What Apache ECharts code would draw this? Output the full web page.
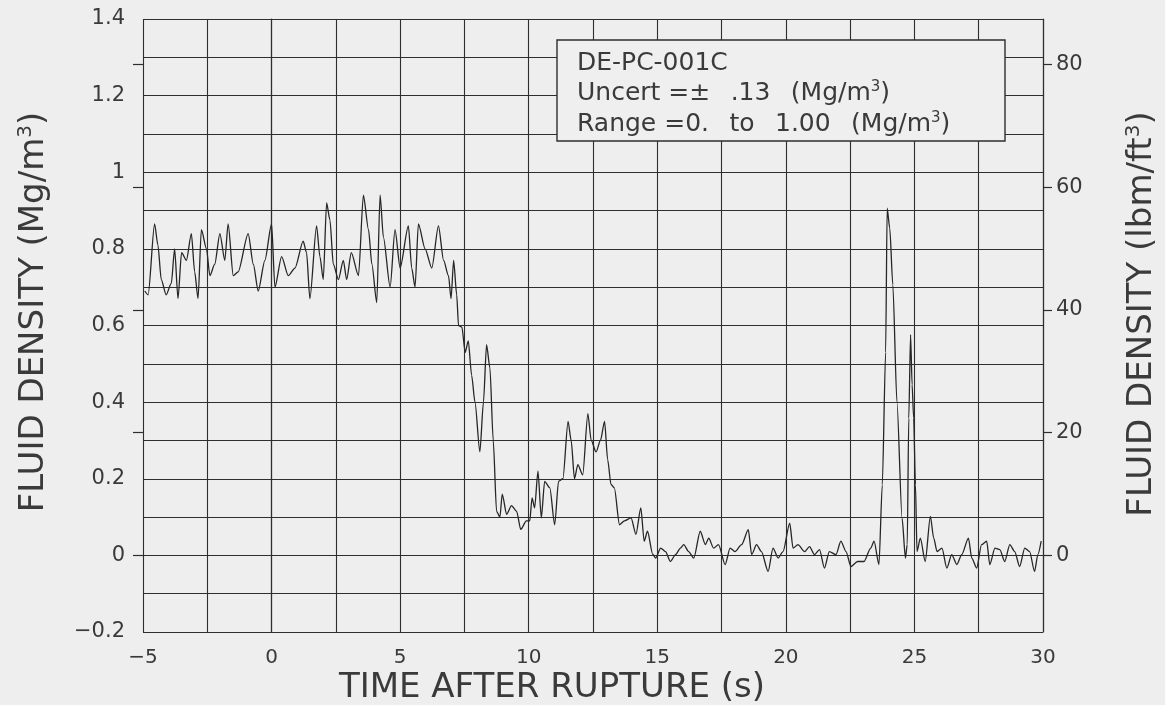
<!DOCTYPE html>
<html>
<head>
<meta charset="utf-8">
<script src="https://cdn.jsdelivr.net/npm/echarts@6/dist/echarts.min.js"></script>
<style>
  html, body { margin: 0; padding: 0; background: #eeeeee; }
  #chart { width: 1165px; height: 705px; }
</style>
</head>
<body>
<div id="chart"></div>
<script>
// Fluid density at DE-PC-001C versus time after rupture
const timeS = [
  -4.93, -4.8, -4.55, -4.42, -4.29, -4.1, -3.9, -3.77, -3.64, -3.5,
  -3.31, -3.12, -2.99, -2.86, -2.73, -2.53, -2.4, -2.21, -2.01, -1.82,
  -1.69, -1.49, -1.3, -0.91, -0.71, -0.52, -0.26, 0, 0.13, 0.39,
  0.65, 0.91, 1.23, 1.36, 1.49, 1.75, 1.88, 2.01, 2.14, 2.27,
  2.4, 2.6, 2.79, 2.92, 3.1, 3.38, 3.57, 3.77, 3.9, 4.09,
  4.22, 4.35, 4.61, 4.8, 5.0, 5.32, 5.45, 5.58, 5.71, 5.97,
  6.23, 6.49, 6.69, 6.88, 6.98, 7.08, 7.2,
  7.27, 7.4, 7.53, 7.65, 7.78, 7.91, 8.1, 8.24, 8.36, 8.49,
  8.62, 8.75, 8.88, 8.97, 9.14, 9.33, 9.53, 9.69, 9.91, 10.04,
  10.13, 10.23, 10.36, 10.49, 10.62, 10.82, 11.01, 11.16, 11.33, 11.53,
  11.65, 11.78, 11.91, 12.1, 12.3, 12.43, 12.62, 12.79, 12.95, 13.07,
  13.2, 13.33, 13.53, 13.72, 13.98, 14.17, 14.36, 14.49, 14.62, 14.82,
  14.94, 15.13, 15.32, 15.51, 15.71, 15.9, 16.03, 16.22, 16.42, 16.67,
  16.87, 17.0, 17.19, 17.38, 17.64, 17.83, 18.02, 18.28, 18.54, 18.67,
  18.86, 19.05, 19.31, 19.5, 19.7, 19.89, 20.15, 20.28, 20.47, 20.73,
  20.92, 21.11, 21.31, 21.5, 21.69, 21.95, 22.14, 22.34, 22.53, 22.79,
  23.04, 23.3, 23.43, 23.62, 23.75, 23.88, 23.94, 24.04, 24.16, 24.32,
  24.52, 24.65, 24.72, 24.78, 24.85, 24.91, 24.97, 25.04, 25.1, 25.23,
  25.42, 25.62, 25.75, 25.88, 26.07, 26.26, 26.45, 26.65, 26.84, 27.1,
  27.23, 27.42, 27.61, 27.81, 27.93, 28.13, 28.32, 28.51, 28.71, 28.9,
  29.09, 29.29, 29.48, 29.67, 29.8, 29.93
];

const densityMg = [
  0.69, 0.68, 0.865, 0.81, 0.72, 0.68, 0.71, 0.80, 0.67, 0.79,
  0.77, 0.84, 0.74, 0.67, 0.85, 0.80, 0.73, 0.76, 0.84, 0.77,
  0.865, 0.73, 0.74, 0.84, 0.76, 0.69, 0.77, 0.865, 0.70, 0.78,
  0.73, 0.75, 0.82, 0.79, 0.67, 0.86, 0.78, 0.72, 0.92, 0.875,
  0.76, 0.72, 0.77, 0.72, 0.79, 0.73, 0.94, 0.85, 0.76, 0.66,
  0.94, 0.83, 0.70, 0.85, 0.75, 0.86, 0.75, 0.70, 0.865, 0.80,
  0.75, 0.86, 0.77, 0.73, 0.67, 0.77, 0.68,
  0.60, 0.596, 0.53, 0.56, 0.47, 0.40, 0.27, 0.40, 0.55, 0.49,
  0.30, 0.115, 0.10, 0.16, 0.107, 0.13, 0.115, 0.068, 0.09, 0.09,
  0.15, 0.124, 0.22, 0.098, 0.193, 0.176, 0.08, 0.193, 0.20, 0.35,
  0.30, 0.20, 0.237, 0.21, 0.37, 0.30, 0.27, 0.30, 0.35, 0.25,
  0.185, 0.176, 0.08, 0.09, 0.098, 0.055, 0.124, 0.037, 0.063, 0.003,
  -0.007, 0.019, 0.01, -0.016, 0.002, 0.019, 0.028, 0.01, -0.007, 0.063,
  0.028, 0.045, 0.019, 0.028, -0.024, 0.019, 0.01, 0.028, 0.067, 0.002,
  0.028, 0.01, -0.042, 0.019, -0.007, 0.01, 0.084, 0.019, 0.028, 0.01,
  0.023, 0.002, 0.015, -0.033, 0.01, 0.002, 0.037, 0.01, -0.029, -0.016,
  -0.016, 0.019, 0.037, -0.024, 0.184, 0.53, 0.906, 0.854, 0.706, 0.40,
  0.097, -0.007, 0.028, 0.358, 0.576, 0.445, 0.358, 0.184, 0.01, 0.045,
  -0.016, 0.102, 0.045, 0.01, 0.019, -0.033, 0.002, -0.024, 0.002, 0.045,
  -0.007, -0.033, 0.028, 0.037, -0.024, 0.019, 0.015, -0.016, 0.028, 0.01,
  -0.029, 0.019, 0.01, -0.042, 0.002, 0.037
];

// Axis ranges and tick values
const timeRange = [-5, 30];
const densityRangeMg = [-0.2, 1.4];
const lbmTickValues = [0, 20, 40, 60, 80];

// 1 Mg/m^3 expressed in lbm/ft^3
const LBM_PER_MG = 62.428;

const INK = '#2e2e2e';
const TEXT = '#3a3a3a';
const PAPER = '#eeeeee';
const FONT = 'DejaVu Sans';
const GAP = ' \u2002';   // wide word gap used in the instrument note

const minus = s => String(s).replace('-', '\u2212');

const chart = echarts.init(document.getElementById('chart'), null, { renderer: 'canvas' });

const lbmMin = densityRangeMg[0] * LBM_PER_MG;
const lbmMax = densityRangeMg[1] * LBM_PER_MG;

const noteFont = '25px "DejaVu Sans"';
const noteSup = { fontSize: 15, fontFamily: FONT, fill: TEXT, verticalAlign: 'bottom', padding: [0, 0, 12, 0] };
const titleFont = '34px "DejaVu Sans"';
const titleSup = { fontSize: 20, fontFamily: FONT, fill: TEXT, verticalAlign: 'bottom', padding: [0, 0, 17, 0] };

const option = {
  backgroundColor: PAPER,
  animation: false,
  grid: {
    left: 143, right: 122, top: 19, bottom: 73,
    outerBoundsMode: 'none',
    containLabel: false
  },
  xAxis: {
    type: 'value',
    min: timeRange[0], max: timeRange[1], interval: 5,
    axisLine: { show: true, lineStyle: { color: INK, width: 1.2 } },
    axisTick: { show: false },
    minorTick: { show: false, splitNumber: 2 },
    splitLine: { show: true, lineStyle: { color: INK, width: 1.1 } },
    minorSplitLine: { show: true, lineStyle: { color: INK, width: 1.1 } },
    axisLabel: {
      margin: 16, color: TEXT, fontFamily: FONT, fontSize: 20,
      formatter: v => minus(Math.round(v))
    }
  },
  yAxis: [
    {
      type: 'value', position: 'left',
      min: densityRangeMg[0], max: densityRangeMg[1], interval: 0.2,
      axisLine: { show: true, lineStyle: { color: INK, width: 1.2 } },
      axisTick: { show: false },
      minorTick: { show: false, splitNumber: 2 },
      splitLine: { show: true, lineStyle: { color: INK, width: 1.1 } },
      minorSplitLine: { show: true, lineStyle: { color: INK, width: 1.1 } },
      axisLabel: {
        margin: 18, color: TEXT, fontFamily: FONT, fontSize: 21,
        formatter: v => minus(Math.round(v * 10) / 10)
      }
    },
    {
      type: 'value', position: 'right',
      min: lbmMin, max: lbmMax,
      axisLine: { show: true, lineStyle: { color: INK, width: 1.2 } },
      splitLine: { show: false },
      axisTick: {
        show: true, inside: false, length: 9, customValues: lbmTickValues,
        lineStyle: { color: INK, width: 1.2 }
      },
      axisLabel: {
        show: true, margin: 13, color: TEXT, fontFamily: FONT, fontSize: 21,
        customValues: lbmTickValues,
        formatter: v => String(Math.round(v))
      }
    },
    {
      // lbm/ft^3 tick marks repeated on the left frame
      type: 'value', position: 'left',
      min: lbmMin, max: lbmMax,
      axisLine: { show: false },
      splitLine: { show: false },
      axisLabel: { show: false },
      axisTick: {
        show: true, inside: false, length: 10, customValues: lbmTickValues,
        lineStyle: { color: INK, width: 1.2 }
      }
    }
  ],
  series: [{
    type: 'line',
    name: 'DE-PC-001C',
    xAxisIndex: 0, yAxisIndex: 0,
    data: timeS.map((t, i) => [t, densityMg[i]]),
    showSymbol: false,
    smooth: 0.25,
    smoothMonotone: 'x',
    lineStyle: { color: '#262626', width: 1.3 },
    z: 5
  }],
  graphic: [
    {
      type: 'rect', z: 20,
      shape: { x: 557, y: 40, width: 448, height: 101 },
      style: { fill: '#efefef', stroke: INK, lineWidth: 1.4 }
    },
    {
      type: 'text', z: 21, x: 577, y: 63,
      style: { text: 'DE-PC-001C', font: noteFont, fill: TEXT, verticalAlign: 'middle' }
    },
    {
      type: 'text', z: 21, x: 577, y: 93,
      style: {
        text: 'Uncert =\u00b1' + GAP + '.13' + GAP + '(Mg/m{sup|3})',
        font: noteFont, fill: TEXT, verticalAlign: 'middle',
        rich: { sup: noteSup }
      }
    },
    {
      type: 'text', z: 21, x: 577, y: 124,
      style: {
        text: 'Range =0.' + GAP + 'to' + GAP + '1.00' + GAP + '(Mg/m{sup|3})',
        font: noteFont, fill: TEXT, verticalAlign: 'middle',
        rich: { sup: noteSup }
      }
    },
    {
      type: 'text', z: 21, x: 552, y: 688,
      style: {
        text: 'TIME AFTER RUPTURE (s)',
        font: titleFont, fill: TEXT, align: 'center', verticalAlign: 'middle'
      }
    },
    {
      type: 'text', z: 21, x: 34, y: 312, rotation: Math.PI / 2,
      style: {
        text: 'FLUID DENSITY (Mg/m{sup|3})',
        font: titleFont, fill: TEXT, align: 'center', verticalAlign: 'middle',
        rich: { sup: titleSup }
      }
    },
    {
      type: 'text', z: 21, x: 1142, y: 314, rotation: Math.PI / 2,
      style: {
        text: 'FLUID DENSITY (lbm/ft{sup|3})',
        font: titleFont, fill: TEXT, align: 'center', verticalAlign: 'middle',
        rich: { sup: titleSup }
      }
    }
  ]
};

chart.setOption(option);
</script>
</body>
</html>
